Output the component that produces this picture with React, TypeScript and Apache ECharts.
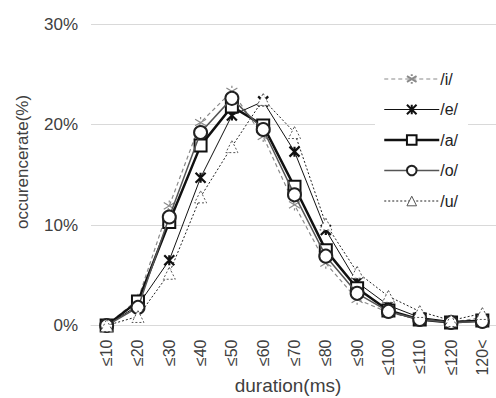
import React, { useEffect, useRef } from "react";
import * as echarts from "echarts";

const categories = ["≤10", "≤20", "≤30", "≤40", "≤50", "≤60", "≤70", "≤80", "≤90", "≤100", "≤110", "≤120", "120<"];
const seriesI = [0, 2.6, 11.9, 20.2, 23.3, 18.8, 12.0, 6.2, 2.6, 1.3, 0.6, 0.3, 0.8];
const seriesE = [0, 2.0, 6.5, 14.7, 20.9, 22.3, 17.3, 9.5, 4.3, 2.0, 0.8, 0.4, 0.5];
const seriesA = [0, 2.4, 10.3, 17.9, 21.8, 19.9, 13.8, 7.5, 3.7, 1.5, 0.6, 0.3, 0.5];
const seriesO = [0, 1.8, 10.8, 19.2, 22.6, 19.5, 13.0, 6.9, 3.2, 1.4, 0.6, 0.3, 0.4];
const seriesU = [0, 0.9, 5.2, 12.8, 17.8, 22.5, 19.2, 10.1, 5.3, 2.9, 1.4, 0.5, 1.2];
const yTicks = [0, 10, 20, 30];

const FONT = "Liberation Sans, Arial, sans-serif";
const TXT = "#404040";

export default function App() {
  const ref = useRef<HTMLDivElement>(null);
  useEffect(() => {
    if (!ref.current) return;
    const chart = echarts.init(ref.current, undefined, { renderer: "svg" });
    const asterisk = "path://M0,0L10,10M10,0L0,10M5,0L5,10";
    const xmark = "path://M1,2L9,8M9,2L1,8M5,0L5,2M5,8L5,10";
    chart.setOption({
      animation: false,
      backgroundColor: "#fff",
      textStyle: { fontFamily: FONT },
      grid: { left: 91, width: 407, top: 24, bottom: 72.5, outerBoundsMode: "none", containLabel: false },
      legend: {
        orient: "vertical",
        left: 375,
        top: 63,
        padding: [8, 10, 8, 8],
        backgroundColor: "#fff",
        itemWidth: 55,
        itemHeight: 12,
        itemGap: 14.5,
        lineStyle: { width: "inherit" },
        textStyle: { fontSize: 16, color: "#222", fontFamily: FONT, padding: [0, 0, 0, -4] },
        data: [
          "/i/",
          "/e/",
          "/a/",
          "/o/",
          { name: "/u/", itemStyle: { color: "#fff", borderColor: "#555", borderWidth: 1 } },
        ],
      },
      xAxis: {
        type: "category",
        data: categories,
        boundaryGap: true,
        axisLine: { show: true, lineStyle: { color: "#d9d9d9" } },
        axisTick: { show: false },
        axisLabel: { rotate: 90, fontSize: 16, color: TXT, margin: 14, interval: 0, fontFamily: FONT },
      },
      yAxis: {
        type: "value",
        min: yTicks[0],
        max: yTicks[yTicks.length - 1],
        interval: 10,
        axisLine: { show: false },
        axisTick: { show: false },
        splitLine: { lineStyle: { color: "#d9d9d9", width: 1 } },
        axisLabel: { formatter: "{value}%", fontSize: 17, color: TXT, margin: 13, fontFamily: FONT },
      },
      graphic: [
        {
          type: "text",
          x: 22,
          y: 162,
          rotation: Math.PI / 2,
          style: {
            text: "occurencerate(%)",
            fontSize: 17,
            fill: TXT,
            fontFamily: FONT,
            align: "center",
            verticalAlign: "middle",
          },
        },
        {
          type: "text",
          x: 288,
          y: 385,
          style: {
            text: "duration(ms)",
            fontSize: 19,
            fill: TXT,
            fontFamily: FONT,
            align: "center",
            verticalAlign: "middle",
          },
        },
      ],
      series: [
        {
          name: "/i/",
          type: "line",
          data: seriesI,
          symbol: xmark,
          symbolSize: 11,
          lineStyle: { color: "#8a8a8a", width: 1.2, type: [4, 3] },
          itemStyle: { color: "#8a8a8a", borderColor: "#8a8a8a", borderWidth: 1.2 },
          z: 2,
        },
        {
          name: "/e/",
          type: "line",
          data: seriesE,
          symbol: asterisk,
          symbolSize: 10,
          lineStyle: { color: "#111", width: 1 },
          itemStyle: { color: "#111", borderColor: "#111", borderWidth: 2.2 },
          z: 3,
        },
        {
          name: "/a/",
          type: "line",
          data: seriesA,
          symbol: "rect",
          symbolSize: 12,
          lineStyle: { color: "#111", width: 2.5 },
          itemStyle: { color: "#fff", borderColor: "#111", borderWidth: 2 },
          z: 4,
        },
        {
          name: "/o/",
          type: "line",
          data: seriesO,
          symbol: "circle",
          symbolSize: 13,
          lineStyle: { color: "#555", width: 1.5 },
          itemStyle: { color: "#fff", borderColor: "#222", borderWidth: 2 },
          z: 5,
        },
        {
          name: "/u/",
          type: "line",
          data: seriesU,
          symbol: "triangle",
          symbolSize: 12,
          lineStyle: { color: "#222", width: 1, type: [2, 2] },
          itemStyle: { color: "#fff", borderColor: "#555", borderWidth: 1, borderType: [2, 2] },
          z: 6,
        },
      ],
    });
    return () => chart.dispose();
  }, []);
  return <div ref={ref} style={{ width: 496, height: 398, position: "absolute", left: 0, top: 0 }} />;
}
